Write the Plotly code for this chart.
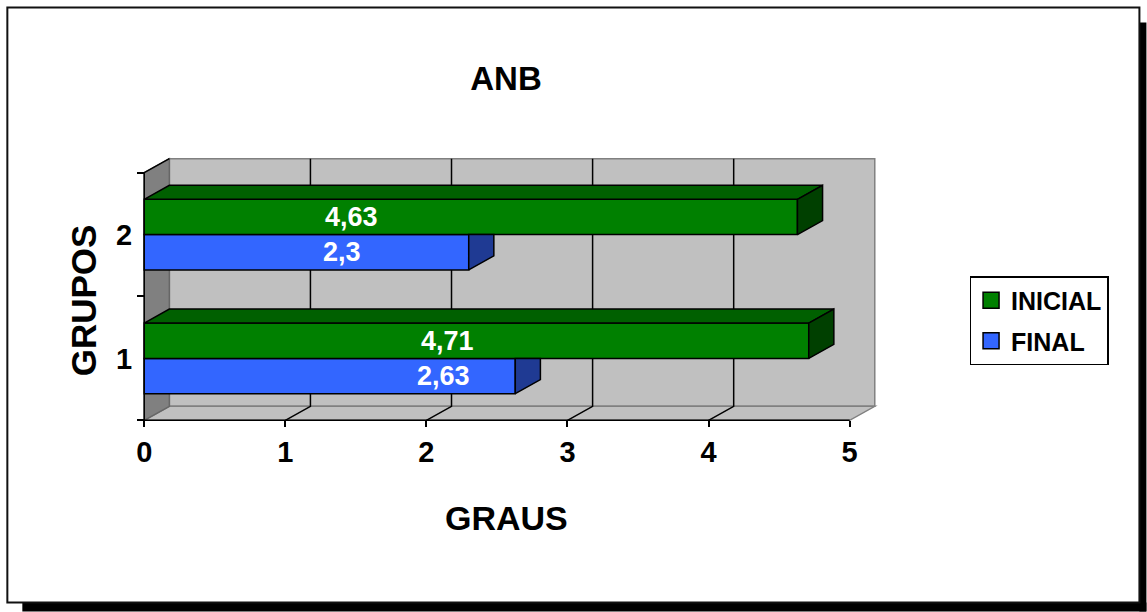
import plotly.graph_objects as go

# ---- data ----
groups = [1, 2]
group_labels = ["1", "2"]
inicial = [4.71, 4.63]
final = [2.63, 2.3]
x_ticks = [0, 1, 2, 3, 4, 5]
series_names = ["INICIAL", "FINAL"]

# ---- geometry / style ----
W, H = 1147, 612
X_MAX = 5
Y_LO, Y_HI = 0.5, 2.5
DX, DY = 0.178, 0.113          # depth of the 3D box, in axis units
BAR_H = 0.285
PX_X0, PX_PER_X = 144, 141.2     # pixel of x=0 and pixels per x unit
PY_Y0, PX_PER_Y = 420.5, 124     # pixel of y=Y_LO and pixels per y unit

GREEN, GREEN_TOP, GREEN_SIDE = "#008000", "#006000", "#004000"
BLUE, BLUE_SIDE = "#3366FF", "#1F3A93"
WALL, WALL_DARK, EDGE = "#C0C0C0", "#808080", "#808080"
FONT = "Liberation Sans, Arial, sans-serif"
# horizontal placement of the value labels (axis units)
label_x_green = [2.15, 1.47]
label_x_blue = [2.12, 1.40]

x_range = [-0.03, X_MAX + DX + 0.03]
y_range = [Y_LO - 0.03, Y_HI + DY + 0.03]

m_l = PX_X0 - (0 - x_range[0]) * PX_PER_X
plot_w = (x_range[1] - x_range[0]) * PX_PER_X
m_r = W - m_l - plot_w
m_b = H - (PY_Y0 + (Y_LO - y_range[0]) * PX_PER_Y)
plot_h = (y_range[1] - y_range[0]) * PX_PER_Y
m_t = H - m_b - plot_h


def px_x(px):
    return (px - m_l) / plot_w


def px_y(py):
    return (H - m_b - py) / plot_h


def poly_path(pts):
    return "M" + " L".join(f"{x},{y}" for x, y in pts) + " Z"


def line_path(pts):
    return "M" + " L".join(f"{x},{y}" for x, y in pts)


fig = go.Figure()

# front faces of the bars
fig.add_trace(go.Bar(
    orientation="h", y=groups, x=final, base=0, width=BAR_H, offset=-BAR_H,
    marker=dict(color=BLUE, line=dict(color="black", width=1.5)),
    showlegend=False, hoverinfo="skip"))
fig.add_trace(go.Bar(
    orientation="h", y=groups, x=inicial, base=0, width=BAR_H, offset=0,
    marker=dict(color=GREEN, line=dict(color="black", width=1.5)),
    showlegend=False, hoverinfo="skip"))

face_line = dict(color="black", width=1.5)

# right faces of the FINAL bars (upper part is hidden by the INICIAL bar)
for pos, v in zip(groups, final):
    y0, y1 = pos - BAR_H, pos
    fig.add_trace(go.Scatter(
        x=[v, v + DX, v + DX, v, v], y=[y0, y0 + DY, y1, y1, y0],
        mode="lines", fill="toself", fillcolor=BLUE_SIDE, line=face_line,
        showlegend=False, hoverinfo="skip"))

# top and right faces of the INICIAL bars
for pos, v in zip(groups, inicial):
    y0, y1 = pos, pos + BAR_H
    fig.add_trace(go.Scatter(
        x=[0, v, v + DX, DX, 0], y=[y1, y1, y1 + DY, y1 + DY, y1],
        mode="lines", fill="toself", fillcolor=GREEN_TOP, line=face_line,
        showlegend=False, hoverinfo="skip"))
    fig.add_trace(go.Scatter(
        x=[v, v + DX, v + DX, v, v], y=[y0, y0 + DY, y1 + DY, y1, y0],
        mode="lines", fill="toself", fillcolor=GREEN_SIDE, line=face_line,
        showlegend=False, hoverinfo="skip"))

# legend entries
for name, col in zip(series_names, [GREEN, BLUE]):
    fig.add_trace(go.Scatter(
        x=[None], y=[None], mode="markers", name=f"<b>{name}</b>",
        legendgroup=name,
        marker=dict(symbol="square", size=16, color=col,
                    line=dict(color="black", width=1.5))))

shapes = []
# back wall, floor and left wall
shapes.append(dict(type="path", xref="x", yref="y", layer="below",
                   path=poly_path([(DX, Y_LO + DY), (X_MAX + DX, Y_LO + DY),
                                   (X_MAX + DX, Y_HI + DY), (DX, Y_HI + DY)]),
                   fillcolor=WALL, line=dict(color=EDGE, width=1.5)))
shapes.append(dict(type="path", xref="x", yref="y", layer="below",
                   path=poly_path([(0, Y_LO), (X_MAX, Y_LO),
                                   (X_MAX + DX, Y_LO + DY), (DX, Y_LO + DY)]),
                   fillcolor=WALL, line=dict(color=EDGE, width=1.5)))
shapes.append(dict(type="path", xref="x", yref="y", layer="below",
                   path=poly_path([(0, Y_LO), (DX, Y_LO + DY),
                                   (DX, Y_HI + DY), (0, Y_HI)]),
                   fillcolor=WALL_DARK, line=dict(color="#666666", width=1.5)))
# grid on the back wall and floor
for k in x_ticks[1:-1]:
    shapes.append(dict(type="path", xref="x", yref="y", layer="below",
                       path=line_path([(k, Y_LO), (k + DX, Y_LO + DY),
                                       (k + DX, Y_HI + DY)]),
                       line=dict(color="black", width=1.5)))
# front edges
shapes.append(dict(type="path", xref="x", yref="y", layer="below",
                   path=line_path([(X_MAX, Y_LO), (0, Y_LO), (0, Y_HI),
                                   (DX, Y_HI + DY)]),
                   line=dict(color="black", width=1.5)))

# chart frame with drop shadow
shapes.append(dict(type="rect", xref="paper", yref="paper", layer="below",
                   x0=px_x(22), x1=px_x(1147), y0=px_y(603), y1=px_y(612),
                   fillcolor="black", line=dict(width=0)))
shapes.append(dict(type="rect", xref="paper", yref="paper", layer="below",
                   x0=px_x(1140), x1=px_x(1147), y0=px_y(22), y1=px_y(612),
                   fillcolor="black", line=dict(width=0)))
shapes.append(dict(type="rect", xref="paper", yref="paper", layer="below",
                   x0=px_x(7), x1=px_x(1140), y0=px_y(7), y1=px_y(603),
                   fillcolor="rgba(0,0,0,0)", line=dict(color="#111111", width=2)))

annotations = []
lab_font = dict(family=FONT, size=27, color="white", weight="bold")
for pos, v, lx in zip(groups, inicial, label_x_green):
    annotations.append(dict(x=lx, y=pos + BAR_H / 2, xref="x", yref="y",
                            text=f"{v:g}".replace(".", ","), showarrow=False,
                            font=lab_font))
for pos, v, lx in zip(groups, final, label_x_blue):
    annotations.append(dict(x=lx, y=pos - BAR_H / 2, xref="x", yref="y",
                            text=f"{v:g}".replace(".", ","), showarrow=False,
                            font=lab_font))

annotations.append(dict(x=px_x(507), y=px_y(518), xref="paper", yref="paper",
                        text="GRAUS", showarrow=False,
                        font=dict(family=FONT, size=34, color="black", weight="bold"),
                        xanchor="center", yanchor="middle"))
annotations.append(dict(x=px_x(84), y=px_y(300), xref="paper", yref="paper",
                        text="GRUPOS", showarrow=False,
                        font=dict(family=FONT, size=35, color="black", weight="bold"),
                        textangle=-90, xanchor="center", yanchor="middle"))

fig.update_layout(
    width=W, height=H, autosize=False,
    margin=dict(l=m_l, r=m_r, t=m_t, b=m_b, pad=0),
    paper_bgcolor="white", plot_bgcolor="white",
    barmode="overlay",
    title=dict(text="ANB", x=506 / W, y=1 - 78 / H, xref="container",
               yref="container", xanchor="center", yanchor="middle",
               font=dict(family=FONT, size=33, color="black", weight="bold")),
    xaxis=dict(range=x_range, anchor="free",
               position=(Y_LO - y_range[0]) / (y_range[1] - y_range[0]),
               tickmode="array", tickvals=x_ticks, ticks="outside", ticklen=6,
               tickwidth=1.5, tickcolor="black", showgrid=False,
               zeroline=False, showline=False,
               tickfont=dict(family=FONT, size=29, color="black", weight="bold")),
    yaxis=dict(range=y_range, anchor="free",
               position=(0 - x_range[0]) / (x_range[1] - x_range[0]),
               tickmode="array", tickvals=groups, ticktext=group_labels,
               ticks="", showgrid=False, zeroline=False, showline=False,
               ticklabelstandoff=12,
               minor=dict(tickmode="array", tickvals=[0.5, 1.5, 2.5],
                          ticks="outside", ticklen=7, tickwidth=1.5,
                          tickcolor="black", showgrid=False),
               tickfont=dict(family=FONT, size=29, color="black", weight="bold")),
    legend=dict(x=px_x(970), y=px_y(276), xanchor="left", yanchor="top",
                bgcolor="white", bordercolor="black", borderwidth=1.5,
                tracegroupgap=5,
                font=dict(family=FONT, size=25, color="black", weight="bold")),
    shapes=shapes,
    annotations=annotations,
)

fig.write_html("out.html")
